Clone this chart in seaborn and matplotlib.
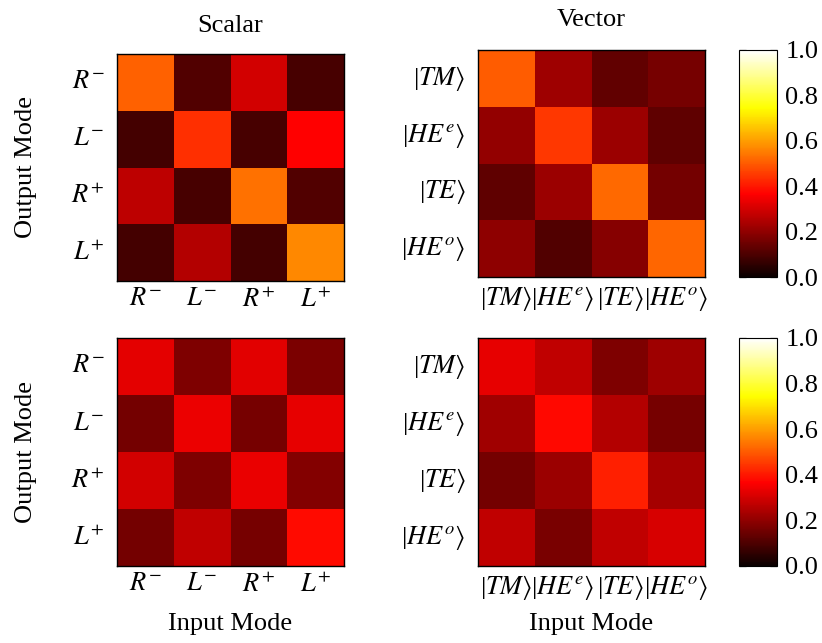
import numpy as np
import pandas as pd
import seaborn as sns
import matplotlib
matplotlib.use("Agg")
import matplotlib.pyplot as plt
from matplotlib.cm import ScalarMappable
from matplotlib.colors import Normalize

sns.set_style("white")
plt.rcParams['font.family'] = ['Liberation Serif', 'DejaVu Serif']
plt.rcParams['mathtext.fontset'] = 'stix'
plt.rcParams['text.color'] = 'black'
plt.rcParams['axes.labelcolor'] = 'black'
plt.rcParams['xtick.labelcolor'] = 'black'
plt.rcParams['ytick.labelcolor'] = 'black'

scalar_labels = [r'$R^{-}$', r'$L^{-}$', r'$R^{+}$', r'$L^{+}$']
vector_labels = [r'|$TM\rangle$', r'|$HE^{e}\rangle$',
                 r'|$TE\rangle$', r'|$HE^{o}\rangle$']

scalar_top = [
    [0.508, 0.106, 0.298, 0.090],
    [0.086, 0.437, 0.090, 0.365],
    [0.268, 0.090, 0.532, 0.106],
    [0.086, 0.252, 0.086, 0.568],
]
vector_top = [
    [0.500, 0.220, 0.129, 0.163],
    [0.205, 0.449, 0.218, 0.126],
    [0.126, 0.218, 0.523, 0.160],
    [0.198, 0.106, 0.186, 0.517],
]
scalar_bottom = [
    [0.328, 0.175, 0.321, 0.169],
    [0.160, 0.338, 0.163, 0.330],
    [0.300, 0.175, 0.335, 0.180],
    [0.160, 0.272, 0.163, 0.380],
]
vector_bottom = [
    [0.332, 0.272, 0.175, 0.220],
    [0.226, 0.377, 0.252, 0.163],
    [0.160, 0.218, 0.413, 0.232],
    [0.272, 0.166, 0.270, 0.307],
]
cbar_ticks = [0.0, 0.2, 0.4, 0.6, 0.8, 1.0]

W, H = 822, 643
fig = plt.figure(figsize=(W / 100, H / 100), dpi=100)

def axbox(x0, y0, x1, y1):
    return [x0 / W, 1 - y1 / H, (x1 - x0) / W, (y1 - y0) / H]

FS = 19

def draw(ax, data, labels):
    df = pd.DataFrame(data, index=labels, columns=labels)
    sns.heatmap(df, ax=ax, cmap='hot', vmin=0, vmax=1, cbar=False, square=False)
    for s in ax.spines.values():
        s.set_visible(True)
        s.set_color('black')
        s.set_linewidth(1.0)
    ax.tick_params(length=0, labelsize=FS, labelcolor='black')
    ax.tick_params(axis='x', pad=5)
    ax.tick_params(axis='y', pad=9)
    ax.set_yticklabels(labels, rotation=0)
    ax.set_xticklabels(labels, rotation=0)

def cbar(cax):
    sm = ScalarMappable(norm=Normalize(0, 1), cmap='hot')
    cb = fig.colorbar(sm, cax=cax, ticks=cbar_ticks)
    cb.ax.tick_params(direction='in', left=True, right=True, color='gray',
                      length=5, width=1, labelsize=FS, pad=6, labelcolor='black')
    cb.ax.set_yticklabels([f'{t:.1f}' for t in cbar_ticks])
    cb.outline.set_linewidth(0.8)
    cb.outline.set_edgecolor('black')

ax1 = fig.add_axes(axbox(117, 54, 344, 281))
draw(ax1, scalar_top, scalar_labels)
ax1.set_title('Scalar', fontsize=FS, pad=16, color='black')
ax1.set_ylabel('Output Mode', fontsize=FS, labelpad=25, color='black')

ax2 = fig.add_axes(axbox(478, 50, 705, 277))
draw(ax2, vector_top, vector_labels)
ax2.set_title('Vector', fontsize=FS, pad=17, color='black')

cax1 = fig.add_axes(axbox(739, 50, 777, 277))
cbar(cax1)

ax3 = fig.add_axes(axbox(117, 338, 344, 566))
draw(ax3, scalar_bottom, scalar_labels)
ax3.set_ylabel('Output Mode', fontsize=FS, labelpad=25, color='black')

ax4 = fig.add_axes(axbox(478, 338, 705, 566))
draw(ax4, vector_bottom, vector_labels)

fig.text((117 + 344) / 2 / W, 1 - 624 / H, 'Input Mode', fontsize=FS,
         ha='center', va='center', color='black')
fig.text((478 + 705) / 2 / W, 1 - 624 / H, 'Input Mode', fontsize=FS,
         ha='center', va='center', color='black')

cax2 = fig.add_axes(axbox(739, 338, 777, 566))
cbar(cax2)

fig.savefig('out.png', dpi=100)
